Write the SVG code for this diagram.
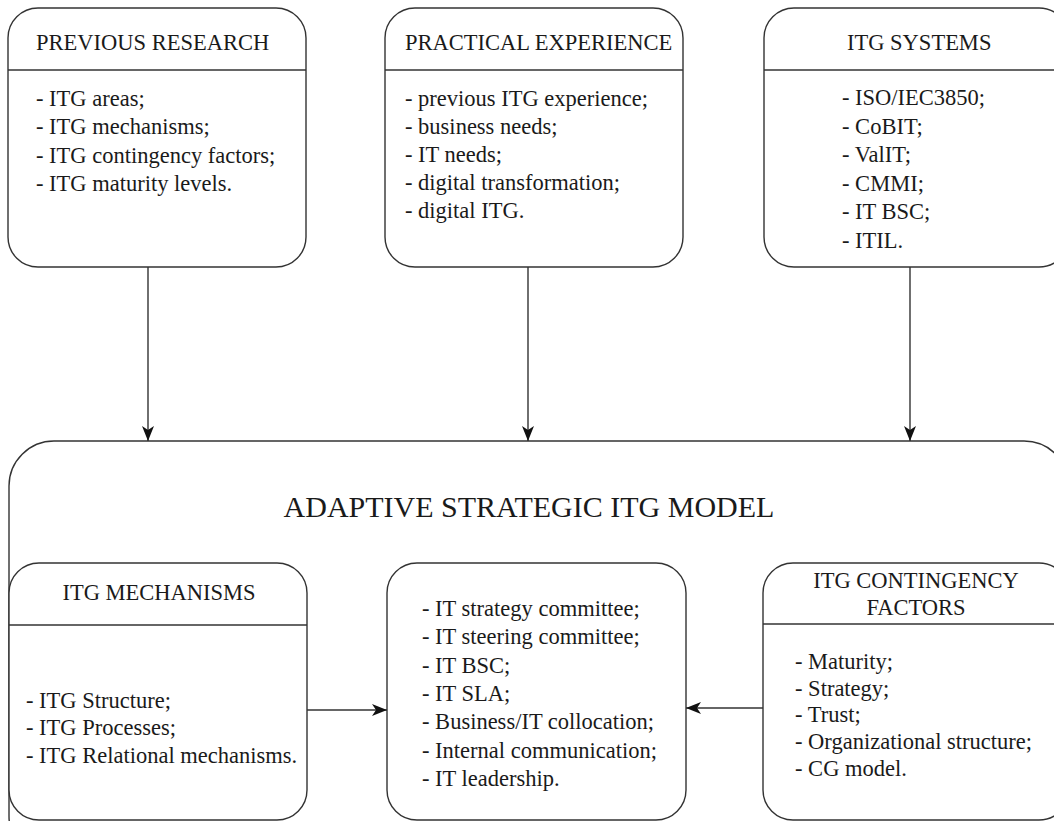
<svg xmlns="http://www.w3.org/2000/svg" width="1054" height="821" viewBox="0 0 1054 821">
<defs>
<marker id="arr" markerUnits="userSpaceOnUse" markerWidth="16" markerHeight="12" viewBox="0 0 16 12" refX="15" refY="6" orient="auto">
<path d="M0,0 L15,6 L0,12 L4,6 Z" fill="#111"/>
</marker>
<style>
.box{fill:#fff;stroke:#333;stroke-width:1.4}
.div{stroke:#333;stroke-width:1.4}
.t{font-family:"Liberation Serif","Times New Roman",serif;font-size:22.5px;fill:#1a1a1a}
.m{text-anchor:middle}
.big{font-family:"Liberation Serif","Times New Roman",serif;font-size:30px;fill:#1a1a1a;text-anchor:middle}
.c{stroke:#333;stroke-width:1.4;fill:none;marker-end:url(#arr)}
</style>
</defs>
<rect width="1054" height="821" fill="#fff"/>

<g id="model">
<rect class="box" x="9" y="441" width="1060" height="420" rx="45" ry="45"/>
<text class="big" x="529" y="517">ADAPTIVE STRATEGIC ITG MODEL</text>
</g>

<g id="previous-research">
<rect class="box" x="8" y="8" width="298" height="259" rx="30" ry="30"/>
<line class="div" x1="8" y1="70" x2="306" y2="70"/>
<text class="t" x="36" y="50">PREVIOUS RESEARCH</text>
<text class="t" x="36" y="106">- ITG areas;</text>
<text class="t" x="36" y="134.3">- ITG mechanisms;</text>
<text class="t" x="36" y="162.6">- ITG contingency factors;</text>
<text class="t" x="36" y="191">- ITG maturity levels.</text>
</g>

<g id="practical-experience">
<rect class="box" x="385" y="8" width="298" height="259" rx="30" ry="30"/>
<line class="div" x1="385" y1="70" x2="683" y2="70"/>
<text class="t" x="405" y="50">PRACTICAL EXPERIENCE</text>
<text class="t" x="405" y="106">- previous ITG experience;</text>
<text class="t" x="405" y="134">- business needs;</text>
<text class="t" x="405" y="162">- IT needs;</text>
<text class="t" x="405" y="190">- digital transformation;</text>
<text class="t" x="405" y="218">- digital ITG.</text>
</g>

<g id="itg-systems">
<rect class="box" x="764" y="8" width="305" height="259" rx="30" ry="30"/>
<line class="div" x1="764" y1="70" x2="1069" y2="70"/>
<text class="t" x="847" y="50">ITG SYSTEMS</text>
<text class="t" x="842" y="105">- ISO/IEC3850;</text>
<text class="t" x="842" y="133.6">- CoBIT;</text>
<text class="t" x="842" y="162.2">- ValIT;</text>
<text class="t" x="842" y="190.8">- CMMI;</text>
<text class="t" x="842" y="219.4">- IT BSC;</text>
<text class="t" x="842" y="248">- ITIL.</text>
</g>

<g id="itg-mechanisms">
<rect class="box" x="9" y="563" width="298" height="257" rx="30" ry="30"/>
<line class="div" x1="9" y1="625" x2="307" y2="625"/>
<text class="t m" x="159" y="600">ITG MECHANISMS</text>
<text class="t" x="26" y="707.5">- ITG Structure;</text>
<text class="t" x="26" y="735">- ITG Processes;</text>
<text class="t" x="26" y="762.5">- ITG Relational mechanisms.</text>
</g>

<g id="itg-practices">
<rect class="box" x="387" y="563" width="299" height="257" rx="30" ry="30"/>
<text class="t" x="422" y="616">- IT strategy committee;</text>
<text class="t" x="422" y="644.3">- IT steering committee;</text>
<text class="t" x="422" y="672.6">- IT BSC;</text>
<text class="t" x="422" y="701">- IT SLA;</text>
<text class="t" x="422" y="729.3">- Business/IT collocation;</text>
<text class="t" x="422" y="757.6">- Internal communication;</text>
<text class="t" x="422" y="786">- IT leadership.</text>
</g>

<g id="itg-contingency-factors">
<rect class="box" x="763" y="563" width="306" height="257" rx="30" ry="30"/>
<line class="div" x1="763" y1="624" x2="1069" y2="624"/>
<text class="t m" x="916" y="588">ITG CONTINGENCY</text>
<text class="t m" x="916" y="614.5">FACTORS</text>
<text class="t" x="795" y="669">- Maturity;</text>
<text class="t" x="795" y="695.7">- Strategy;</text>
<text class="t" x="795" y="722.4">- Trust;</text>
<text class="t" x="795" y="749.1">- Organizational structure;</text>
<text class="t" x="795" y="775.8">- CG model.</text>
</g>

<g id="connectors">
<line class="c" x1="148" y1="267" x2="148" y2="441"/>
<line class="c" x1="528" y1="267" x2="528" y2="441"/>
<line class="c" x1="910" y1="267" x2="910" y2="441"/>
<line class="c" x1="307" y1="710" x2="387" y2="710"/>
<line class="c" x1="763" y1="708" x2="686" y2="708"/>
</g>
</svg>
